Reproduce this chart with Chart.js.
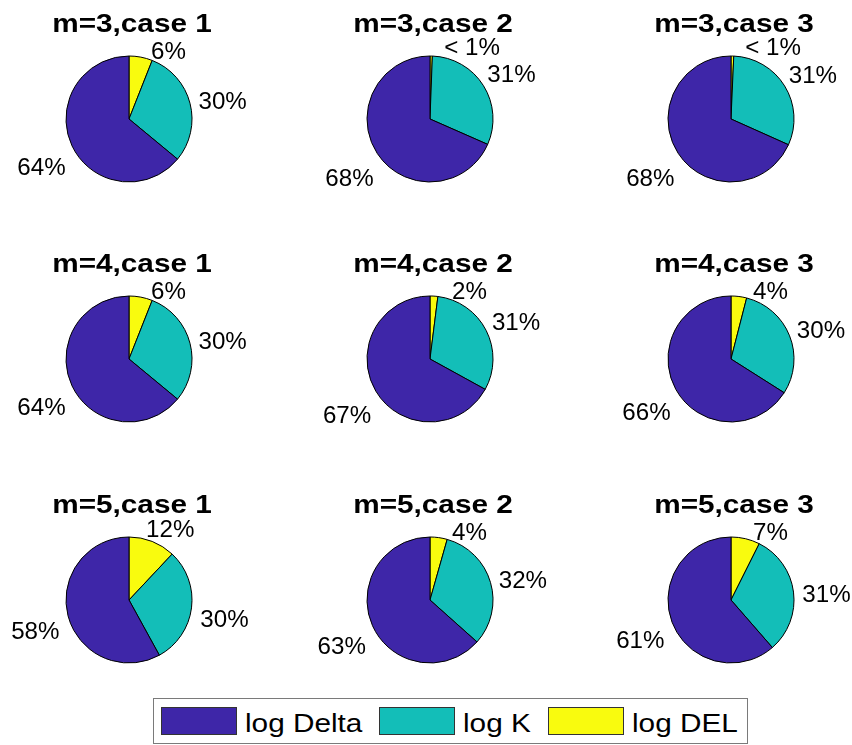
<!DOCTYPE html>
<html>
<head>
<meta charset="utf-8">
<script src="https://cdn.jsdelivr.net/npm/chart.js@4.4.0/dist/chart.umd.min.js"></script>
<style>
html, body { margin: 0; padding: 0; background: #fff; overflow: hidden; }
#wrap { position: relative; width: 852px; height: 745px; }
.cell { position: absolute; width: 256px; height: 240px; }
#legend {
  position: absolute; left: 153px; top: 698px; width: 595px; height: 46px;
  box-sizing: border-box; border: 1px solid #7a7a7a; background: #fff;
  display: flex; align-items: center; padding-left: 7px;
  font-family: "Liberation Sans", Arial, sans-serif; font-size: 25px; color: #000;
}
.sw { width: 76px; height: 28px; box-sizing: border-box; border: 1px solid #333; margin-right: 8px; flex: none; }
.lt { display: inline-block; transform: scaleX(1.19); transform-origin: left center; white-space: nowrap; position: relative; top: 2px; flex: none; }
</style>
</head>
<body>
<div id="wrap"><div id="legend"></div></div>
<script>
var seriesNames = ['log Delta', 'log K', 'log DEL'];
var seriesColors = ['#3E26A8', '#13BEB8', '#F9FB0E'];

var titles = ['m=3,case 1', 'm=3,case 2', 'm=3,case 3',
              'm=4,case 1', 'm=4,case 2', 'm=4,case 3',
              'm=5,case 1', 'm=5,case 2', 'm=5,case 3'];

// share of each term, one entry per subplot (row by row)
var logDelta = [64, 68.4, 68.3, 64, 67, 66, 58, 63.4, 61.4];
var logK     = [30, 31.0, 31.0, 30, 31, 30, 30, 32.2, 31.2];
var logDEL   = [6,  0.6,  0.7,  6,  2,  4,  12, 4.4,  7.4];

var colX = [129, 430, 730.5];
var rowY = [119, 359, 600];

var textScale = 1.19;
var labelScale = 1.05;

function drawStretched(ctx, txt, x, y, sx) {
  var asc = ctx.measureText('0').actualBoundingBoxAscent;
  ctx.save();
  ctx.translate(x, y);
  ctx.scale(sx, 1);
  ctx.textAlign = 'center';
  ctx.textBaseline = 'alphabetic';
  ctx.fillText(txt, 0, asc / 2);
  ctx.restore();
}

// percent labels + subplot title, matlab pie style
var pieText = {
  id: 'pieText',
  afterDatasetsDraw: function(chart, args, opts) {
    var ctx = chart.ctx;
    var arcs = chart.getDatasetMeta(0).data;
    var vals = chart.data.datasets[0].data;
    var total = 0;
    for (var k = 0; k < vals.length; k++) total += vals[k];
    var cx = arcs[0].x, cy = arcs[0].y, R = arcs[0].outerRadius;

    ctx.save();
    ctx.fillStyle = '#000';
    ctx.font = '23px "Liberation Sans", Arial, sans-serif';
    var cap = ctx.measureText('0').actualBoundingBoxAscent;
    var minT = 30 * Math.PI / 180;
    for (var i = 0; i < arcs.length; i++) {
      var a = arcs[i];
      var p = vals[i] / total * 100;
      var txt = p < 1 ? '< 1%' : Math.round(p) + '%';
      var t = (a.startAngle + a.endAngle) / 2 + Math.PI / 2;
      var pad = R * 0.13, drop = 6;
      if (t < minT) { t = minT; pad = 0; drop = 0; }
      var w = ctx.measureText(txt).width * labelScale;
      var dx = Math.sin(t), dy = -Math.cos(t);
      var d = R + pad + Math.abs(dx) * w / 2 + Math.abs(dy) * cap / 2;
      drawStretched(ctx, txt, cx + dx * d, cy + dy * d + drop, labelScale);
    }

    ctx.font = 'bold 25px "Liberation Sans", Arial, sans-serif';
    drawStretched(ctx, opts.title, cx + 3, cy - 95.7, textScale);
    ctx.restore();
  }
};

var wrap = document.getElementById('wrap');
for (var i = 0; i < titles.length; i++) {
  var div = document.createElement('div');
  div.className = 'cell';
  div.style.left = (colX[i % 3] - 128) + 'px';
  div.style.top = (rowY[Math.floor(i / 3)] - 119) + 'px';
  var cv = document.createElement('canvas');
  cv.width = 256; cv.height = 240;
  div.appendChild(cv);
  wrap.appendChild(div);

  new Chart(cv.getContext('2d'), {
    type: 'pie',
    data: {
      labels: [seriesNames[2], seriesNames[1], seriesNames[0]],
      datasets: [{
        data: [logDEL[i], logK[i], logDelta[i]],
        backgroundColor: [seriesColors[2], seriesColors[1], seriesColors[0]],
        borderColor: '#000',
        borderWidth: 1,
        hoverOffset: 0,
        offset: 0
      }]
    },
    options: {
      responsive: false,
      animation: false,
      events: [],
      layout: { padding: { left: 64.5, right: 64.5, top: 55.5, bottom: 57.5 } },
      plugins: {
        legend: { display: false },
        tooltip: { enabled: false },
        title: { display: false },
        pieText: { title: titles[i] }
      }
    },
    plugins: [pieText]
  });
}

// legend box under the grid
var leg = document.getElementById('legend');
for (var s = 0; s < seriesNames.length; s++) {
  var sw = document.createElement('div');
  sw.className = 'sw';
  sw.style.background = seriesColors[s];
  leg.appendChild(sw);
  var lt = document.createElement('span');
  lt.className = 'lt';
  lt.textContent = seriesNames[s];
  leg.appendChild(lt);
  lt.style.marginRight = (lt.offsetWidth * (textScale - 1) + 17) + 'px';
}
</script>
</body>
</html>
